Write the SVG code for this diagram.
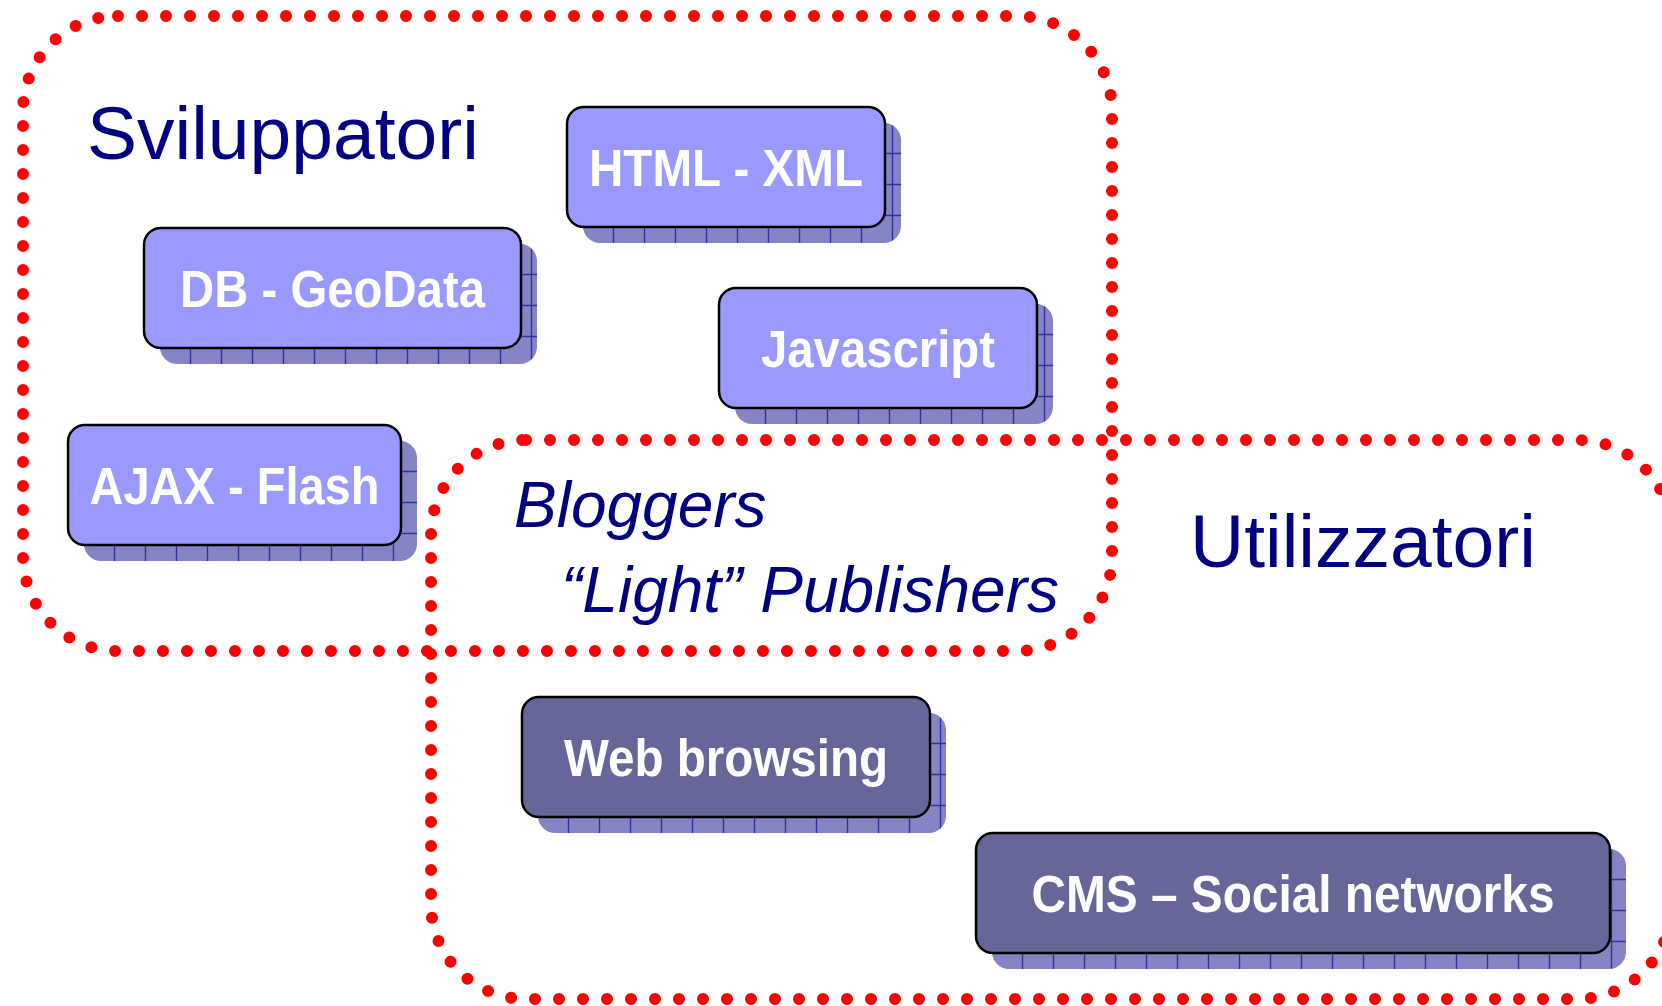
<svg xmlns="http://www.w3.org/2000/svg" width="1662" height="1006" viewBox="0 0 1662 1006">
<defs>
<style>
.region{fill:none;stroke:#ff0000;stroke-width:12;stroke-linecap:round;stroke-dasharray:0 24;}
.shadow{fill:url(#grid);}
.box-light{fill:#9999ff;stroke:#000000;stroke-width:2.5;}
.box-dark{fill:#666699;stroke:#000000;stroke-width:2.5;}
.lbl{font-family:"Liberation Sans",Arial,Helvetica,sans-serif;font-weight:bold;font-size:51px;fill:#ffffff;text-anchor:middle;}
.group-title{font-family:"Liberation Sans",Arial,Helvetica,sans-serif;font-size:75px;fill:#000080;}
.ital{font-family:"Liberation Sans",Arial,Helvetica,sans-serif;font-style:italic;font-size:64px;fill:#000080;}
</style>
<pattern id="grid" patternUnits="userSpaceOnUse" width="31" height="31">
<rect width="31" height="31" fill="#8585c6"/>
<path d="M15.5 0V31M0 15.5H31" stroke="#3333a0" stroke-width="1.4" fill="none"/>
</pattern>
</defs>

<g id="regions">
<rect id="region-sviluppatori" class="region" x="23" y="16" width="1089" height="635" rx="95" ry="95"/>
<rect id="region-utilizzatori" class="region" x="431" y="440" width="1241" height="559" rx="95" ry="95"/>
</g>

<g id="titles">
<text class="group-title" x="87" y="159">Sviluppatori</text>
<text class="group-title" x="1190" y="567">Utilizzatori</text>
<text class="ital" x="514" y="527">Bloggers</text>
<text class="ital" x="561" y="612">“Light” Publishers</text>
</g>

<g id="connectors"></g>

<g id="node-html" transform="translate(567,107)">
<rect class="shadow" x="16" y="16" width="318" height="120" rx="17"/>
<rect class="box-light" x="0" y="0" width="318" height="120" rx="17"/>
<text class="lbl" x="159" y="78.5" textLength="274" lengthAdjust="spacingAndGlyphs">HTML - XML</text>
</g>

<g id="node-db" transform="translate(144,228)">
<rect class="shadow" x="16" y="16" width="377" height="120" rx="17"/>
<rect class="box-light" x="0" y="0" width="377" height="120" rx="17"/>
<text class="lbl" x="188.5" y="78.5" textLength="305" lengthAdjust="spacingAndGlyphs">DB - GeoData</text>
</g>

<g id="node-javascript" transform="translate(719,288)">
<rect class="shadow" x="16" y="16" width="318" height="120" rx="17"/>
<rect class="box-light" x="0" y="0" width="318" height="120" rx="17"/>
<text class="lbl" x="159" y="78.5" textLength="234" lengthAdjust="spacingAndGlyphs">Javascript</text>
</g>

<g id="node-ajax" transform="translate(68,425)">
<rect class="shadow" x="16" y="16" width="333" height="120" rx="17"/>
<rect class="box-light" x="0" y="0" width="333" height="120" rx="17"/>
<text class="lbl" x="166.5" y="78.5" textLength="290" lengthAdjust="spacingAndGlyphs">AJAX - Flash</text>
</g>

<g id="node-web" transform="translate(522,697)">
<rect class="shadow" x="16" y="16" width="408" height="120" rx="17"/>
<rect class="box-dark" x="0" y="0" width="408" height="120" rx="17"/>
<text class="lbl" x="204" y="78.5" textLength="324" lengthAdjust="spacingAndGlyphs">Web browsing</text>
</g>

<g id="node-cms" transform="translate(976,833)">
<rect class="shadow" x="16" y="16" width="634" height="120" rx="17"/>
<rect class="box-dark" x="0" y="0" width="634" height="120" rx="17"/>
<text class="lbl" x="317" y="78.5" textLength="523" lengthAdjust="spacingAndGlyphs">CMS – Social networks</text>
</g>
</svg>
